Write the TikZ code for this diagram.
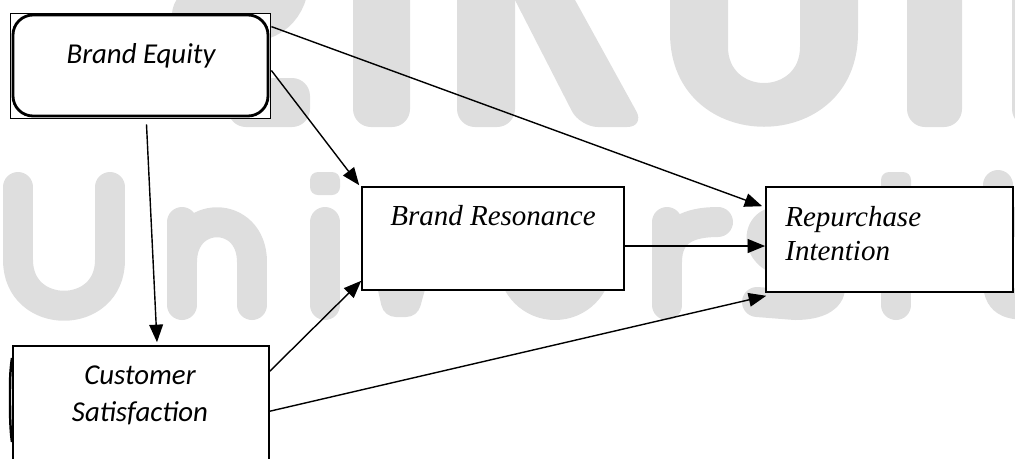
\documentclass[tikz,border=0pt]{standalone}
\usepackage{fontspec}
\newfontfamily\calibrifont{Carlito}
\newfontfamily\timesfont{Liberation Serif}
\usetikzlibrary{arrows.meta,fit,calc}
\definecolor{wmgrey}{RGB}{222,222,222}
\begin{document}
\begin{tikzpicture}[x=0.02cm,y=-0.02cm,
  wmstroke/.style={draw=wmgrey,line width=0.6cm,line cap=round,line join=round},
  wmfill/.style={fill=wmgrey,rounded corners=0.36cm},
  plainbox/.style={draw=black,line width=0.9pt,fill=white,inner sep=0pt},
  link/.style={draw=black,line width=0.8pt,-{Triangle[length=10pt,width=7.8pt]}},
  sanslabel/.style={font=\calibrifont\itshape\fontsize{16.4}{21}\selectfont,inner sep=0pt},
  seriflabel/.style={font=\timesfont\itshape\fontsize{16.5}{19.8}\selectfont,inner sep=0pt}]
\useasboundingbox (0,0) rectangle (1015,458);
\clip (0,0) rectangle (1015,458);

% --- background watermark, upper row (large letters, cut at the top edge)
\draw[draw=wmgrey,line width=1.12cm,line cap=round] (200,15) -- (240,15) .. controls (270,15) and (282,0) .. (282,-30);
\fill[wmfill] (228,78) rectangle (310,127);
\fill[wmfill] (353,-80) rectangle (410,127);
\fill[wmfill] (457,-80) rectangle (515,127);
\fill[wmfill] (474,-80) -- (531,-80) -- (645,127) -- (580,127) -- cycle;
\fill[wmgrey,even odd rule]
  (670,-20) -- (670,33) .. controls (670,158) and (858,158) .. (858,33) -- (858,-20) -- cycle
  (728,-20) -- (728,47) .. controls (728,95) and (800,95) .. (800,47) -- (800,-20) -- cycle;
\fill[wmfill] (907,-80) rectangle (962,127);
\fill[wmfill] (1012,-80) rectangle (1070,127);

% --- background watermark, lower row
\draw[wmstroke] (18,187) -- (18,260) .. controls (18,321) and (110,321) .. (110,260) -- (110,187);
\draw[wmstroke] (182,222) -- (182,305);
\draw[wmstroke] (182,262) .. controls (182,209) and (252,209) .. (252,262) -- (252,305);
\draw[wmstroke] (325,222) -- (325,305);
\fill[wmgrey,rounded corners=0.16cm] (310,172) rectangle (340,195);
\draw[wmstroke] (378,222) -- (396,302) -- (406,302) -- (428,222);
\draw[wmstroke] (555,263) circle[radius=0.84cm];
\draw[wmstroke] (667,222) -- (667,305);
\draw[wmstroke] (667,262) .. controls (667,230) and (690,222) .. (718,222);
\draw[wmstroke] (835,228) .. controls (820,218) and (790,220) .. (775,222)
  .. controls (755,225) and (755,258) .. (790,263)
  .. controls (840,270) and (845,305) .. (795,305) -- (757,302);
\fill[wmgrey,rounded corners=0.16cm] (881,172) rectangle (911,195);
\draw[wmstroke] (896,222) -- (896,305);
\draw[wmstroke] (998,185) -- (998,280) .. controls (998,300) and (1005,305) .. (1030,305);
\draw[wmstroke] (975,222) -- (1030,222);

% --- boxes
\node[plainbox,line width=0.5pt,fit={(10,13) (270,118)}] (beo) {};
\node[draw=black,line width=1.6pt,rounded corners=0.4cm,fill=white,inner sep=0pt,
      fit={(13,15) (268,116)}] (be) {};
\node[sanslabel,anchor=base] (betext) at (141,63) {Brand Equity};

\node[plainbox,fit={(362,187) (624,290)}] (br) {};
\node[seriflabel,anchor=base] (brtext) at (493,225) {Brand Resonance};

\node[plainbox,fit={(766,187) (1013,292)}] (ri) {};
\node[seriflabel,anchor=west,align=left] (ritext) at (785,233.5) {Repurchase\\Intention};

\node[plainbox,fit={(13,346) (269,480)}] (cs) {};
\draw[line width=1.4pt] (12,358) .. controls (10,372) and (10,380) .. (10,400)
  .. controls (10,425) and (11,435) .. (12,442);
\node[sanslabel,align=center] (cstext) at (140,395) {Customer\\Satisfaction};

% --- connectors
\draw[link] ([shift={(6,7)}]be.south) -- ([shift={(16,-3)}]cs.north);
\draw[link] ([shift={(2,5)}]be.east) -- ([shift={(-2,-1)}]br.north west);
\draw[link] ([shift={(2,13)}]be.north east) -- ([shift={(-3,20)}]ri.north west);
\draw[link,line width=1.2pt] ([shift={(0,7.5)}]br.east) -- ([shift={(0,6.5)}]ri.west);
\draw[link] ([shift={(0,26)}]cs.north east) -- ([shift={(0,-10)}]br.south west);
\draw[link] ([shift={(0,66)}]cs.north east) -- ([shift={(1,3)}]ri.south west);
\end{tikzpicture}
\end{document}
